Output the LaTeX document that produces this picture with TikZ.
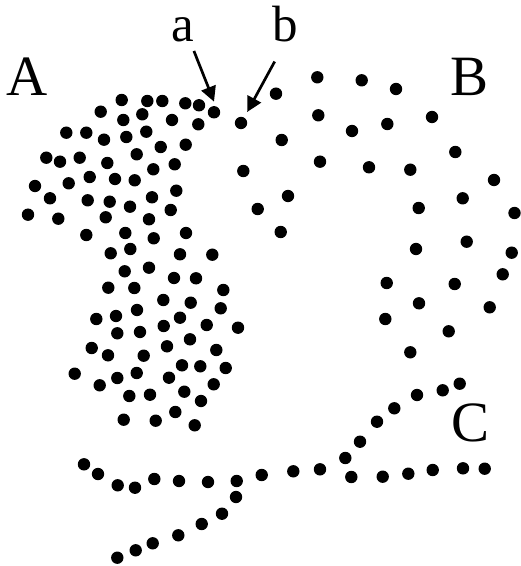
\documentclass[tikz,border=0pt]{standalone}
\usepackage{fontspec}
\setmainfont{Liberation Serif}
\usetikzlibrary{arrows.meta}

\begin{document}
\begin{tikzpicture}[
      x=0.5pt, y=-0.5pt,
      dot/.style={circle, fill=black, inner sep=0pt, minimum size=6.2pt},
      biglabel/.style={anchor=base, inner sep=0pt, font=\fontsize{28.5}{30}\selectfont},
      smalllabel/.style={anchor=base, inner sep=0pt, font=\fontsize{25.5}{27}\selectfont},
      pointer/.style={-{Triangle[length=7.5pt, width=7.5pt]}, line width=1.35pt},
    ]
    \useasboundingbox (0,0) rectangle (520,566);

    % cluster A
    \foreach \px/\py [count=\i] in {121.7/100, 147.3/101, 162.3/101, 185.3/103.3, 199/105.3,
        100.7/111.7, 123.3/120, 142.3/114.3, 172/120, 198.3/124.3, 66.3/132.7, 86.3/132.7,
        104/139.7, 126.3/137, 146.3/131.7, 160.7/147, 185.7/144.7, 46.3/157.7, 60/161.7,
        79.7/157.7, 107.3/163, 136.7/154.3, 174.7/164.3, 153.3/169.3, 35/186, 68.7/183.3,
        89.7/177, 115/179, 134.7/180.3, 50/198.3, 87.7/200.3, 109.7/201.7, 130/206.7,
        152/197.3, 176.3/190.7, 28/214.7, 58.3/218.7, 105.7/217.3, 149/219.3, 170.7/210,
        86.3/235, 125.3/233, 153.7/238.3, 186/233, 110.7/253.3, 130.3/249, 180/254.3,
        212.3/254.7, 124.7/271.3, 149/267.7, 174/278, 196/278.3, 108.3/287.7, 134.3/288,
        223.3/290, 163.3/300, 190.7/302.7, 220.7/308.3, 137/310, 96.3/319, 116/316,
        180/317.7, 163.7/326, 206.7/325, 238/327.7, 117.3/333.3, 140/332, 190/339.3,
        91.7/348, 108/355.3, 143.7/355.7, 167/346.3, 216.3/350, 74.7/373.7, 99.7/385.3,
        117.3/378, 136.7/373, 169/377.7, 182/365.3, 200.3/366.3, 225.7/368, 213.7/384.3,
        129.3/396, 150/394.7, 184.3/391.7, 201/401, 123.7/419.7, 155.7/420.7, 175.3/412,
        194.7/425.3}
      \node[dot] (ca\i) at (\px,\py) {};
    \node[dot] (pa) at (214,112.3) {};

    % cluster B
    \foreach \px/\py [count=\i] in {243.3/171, 257.7/209, 317.3/77.3, 361.7/80.3, 396/89,
        276/93.7, 318.3/115.3, 352/131, 387.3/124, 432/117, 281.7/140, 320/161.7,
        369/167.3, 410.3/169.7, 455.3/152, 494/180, 288/196, 418.7/208, 462.7/198.3,
        514.5/213, 280.7/232, 416/249, 466.7/241.7, 511.7/252.7, 386.7/283, 454.7/284,
        502.7/274.3, 419/303.3, 489.7/307.3, 385.3/319, 448.7/331.3, 410.3/352.3}
      \node[dot] (cb\i) at (\px,\py) {};
    \node[dot] (pb) at (241,123) {};

    % cluster C
    \foreach \px/\py [count=\i] in {84/464.3, 98/474, 117.7/485.3, 135/487.7, 154.3/479,
        179/481, 208/482, 236.7/481, 236/497, 222/513.7, 201.7/524, 178.3/535.3,
        152.7/543.3, 135.7/550.3, 117.3/557.7, 261.7/475, 293.3/471.3, 320/469.3,
        345.3/458, 351.3/477, 360/441.7, 377/421.7, 394.3/408.3, 417/395, 442.7/390.3,
        459.7/383.7, 382.7/476.7, 408.3/473.7, 432.7/470, 463/468.3, 484.7/468.7}
      \node[dot] (cc\i) at (\px,\py) {};

    \node[biglabel] (labA) at (27.5,96) {A};
    \node[biglabel] (labB) at (469,96) {B};
    \node[biglabel] (labC) at (470,441) {C};
    \node[smalllabel] (laba) at (183.3,41.7) {a};
    \node[smalllabel] (labb) at (285,41.7) {b};

    \draw[pointer, shorten <=4.5pt, shorten >=2.3pt] (laba.-60) -- (pa.75);
    \draw[pointer, shorten <=10.8pt, shorten >=3pt] (labb.south) -- (pb.60);
  \end{tikzpicture}
\end{document}
